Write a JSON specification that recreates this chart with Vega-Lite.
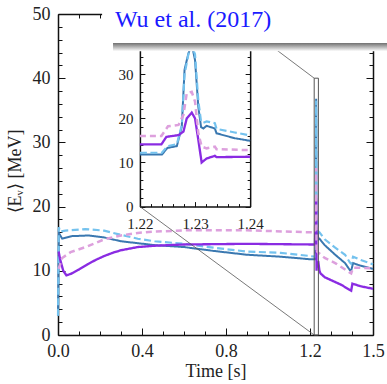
{
  "$schema": "https://vega.github.io/schema/vega-lite/v6.json",
  "width": 315,
  "height": 321,
  "autosize": {"type": "none"},
  "padding": {"left": 58, "top": 14, "right": 14, "bottom": 49},
  "background": "white",
  "config": {
    "view": {"stroke": null},
    "axis": {
      "zindex": 0,
      "grid": false,
      "labelFont": "Liberation Serif",
      "labelFontSize": 18,
      "labelColor": "#222",
      "titleFont": "Liberation Serif",
      "titleFontSize": 18,
      "titleFontWeight": "normal",
      "titleColor": "#222",
      "domainColor": "#111",
      "domainWidth": 1.5,
      "tickColor": "#111",
      "tickWidth": 1,
      "labelFlush": false,
      "labelOverlap": false
    }
  },
  "datasets": {
    "d": [
      {"t": 0, "E": 3.0, "s": "A"}, {"t": 0.004, "E": 15.9, "s": "A"}, {"t": 0.02, "E": 15.0, "s": "A"}, {"t": 0.065, "E": 15.4, "s": "A"}, {"t": 0.145, "E": 15.5, "s": "A"}, {"t": 0.22, "E": 15.2, "s": "A"}, {"t": 0.30, "E": 14.6, "s": "A"}, {"t": 0.38, "E": 14.3, "s": "A"}, {"t": 0.46, "E": 14.0, "s": "A"}, {"t": 0.60, "E": 13.7, "s": "A"}, {"t": 0.74, "E": 13.1, "s": "A"}, {"t": 0.90, "E": 12.5, "s": "A"}, {"t": 1.06, "E": 12.2, "s": "A"}, {"t": 1.20, "E": 11.8, "s": "A"},
      {"t": 1.22, "E": 11.8, "s": "A"}, {"t": 1.224, "E": 11.8, "s": "A"}, {"t": 1.225, "E": 13.3, "s": "A"}, {"t": 1.2267, "E": 13.7, "s": "A"}, {"t": 1.2276, "E": 18.1, "s": "A"}, {"t": 1.2281, "E": 31.0, "s": "A"}, {"t": 1.2288, "E": 34.7, "s": "A"}, {"t": 1.2294, "E": 36.8, "s": "A"}, {"t": 1.23, "E": 33.2, "s": "A"}, {"t": 1.2306, "E": 22.6, "s": "A"}, {"t": 1.2311, "E": 18.0, "s": "A"}, {"t": 1.2315, "E": 17.7, "s": "A"}, {"t": 1.2321, "E": 18.3, "s": "A"}, {"t": 1.2336, "E": 17.7, "s": "A"}, {"t": 1.2339, "E": 16.6, "s": "A"}, {"t": 1.2372, "E": 15.5, "s": "A"}, {"t": 1.24, "E": 14.9, "s": "A"},
      {"t": 1.245, "E": 15.0, "s": "A"}, {"t": 1.27, "E": 14.0, "s": "A"}, {"t": 1.32, "E": 12.5, "s": "A"}, {"t": 1.367, "E": 11.2, "s": "A"}, {"t": 1.39, "E": 10.1, "s": "A"}, {"t": 1.396, "E": 10.0, "s": "A"}, {"t": 1.405, "E": 11.2, "s": "A"}, {"t": 1.44, "E": 10.8, "s": "A"}, {"t": 1.5, "E": 10.3, "s": "A"},

      {"t": 0, "E": 3.0, "s": "B"}, {"t": 0.004, "E": 16.8, "s": "B"}, {"t": 0.01, "E": 16.1, "s": "B"}, {"t": 0.035, "E": 16.25, "s": "B"}, {"t": 0.13, "E": 16.5, "s": "B"}, {"t": 0.22, "E": 16.25, "s": "B"}, {"t": 0.30, "E": 15.6, "s": "B"}, {"t": 0.38, "E": 15.0, "s": "B"}, {"t": 0.46, "E": 14.6, "s": "B"}, {"t": 0.60, "E": 14.2, "s": "B"}, {"t": 0.74, "E": 13.6, "s": "B"}, {"t": 0.90, "E": 13.0, "s": "B"}, {"t": 1.06, "E": 12.8, "s": "B"}, {"t": 1.20, "E": 12.3, "s": "B"},
      {"t": 1.22, "E": 12.2, "s": "B"}, {"t": 1.224, "E": 12.2, "s": "B"}, {"t": 1.225, "E": 13.7, "s": "B"}, {"t": 1.2267, "E": 14.1, "s": "B"}, {"t": 1.2276, "E": 18.5, "s": "B"}, {"t": 1.2281, "E": 30.0, "s": "B"}, {"t": 1.2288, "E": 34.5, "s": "B"}, {"t": 1.2294, "E": 36.5, "s": "B"}, {"t": 1.23, "E": 34.5, "s": "B"}, {"t": 1.2306, "E": 24.0, "s": "B"}, {"t": 1.2311, "E": 19.2, "s": "B"}, {"t": 1.2315, "E": 19.0, "s": "B"}, {"t": 1.2321, "E": 19.3, "s": "B"}, {"t": 1.2336, "E": 18.9, "s": "B"}, {"t": 1.2339, "E": 17.6, "s": "B"}, {"t": 1.2372, "E": 16.8, "s": "B"}, {"t": 1.24, "E": 16.1, "s": "B"},
      {"t": 1.245, "E": 16.0, "s": "B"}, {"t": 1.27, "E": 14.9, "s": "B"}, {"t": 1.32, "E": 13.6, "s": "B"}, {"t": 1.367, "E": 12.5, "s": "B"}, {"t": 1.39, "E": 11.3, "s": "B"}, {"t": 1.396, "E": 11.1, "s": "B"}, {"t": 1.405, "E": 12.2, "s": "B"}, {"t": 1.44, "E": 11.7, "s": "B"}, {"t": 1.5, "E": 11.0, "s": "B"},

      {"t": 0.003, "E": 13.0, "s": "C"}, {"t": 0.01, "E": 11.8, "s": "C"}, {"t": 0.025, "E": 10.0, "s": "C"}, {"t": 0.04, "E": 9.3, "s": "C"}, {"t": 0.06, "E": 9.5, "s": "C"}, {"t": 0.10, "E": 10.2, "s": "C"}, {"t": 0.14, "E": 11.0, "s": "C"}, {"t": 0.18, "E": 11.7, "s": "C"}, {"t": 0.22, "E": 12.3, "s": "C"}, {"t": 0.26, "E": 12.8, "s": "C"}, {"t": 0.30, "E": 13.2, "s": "C"}, {"t": 0.38, "E": 13.7, "s": "C"}, {"t": 0.46, "E": 13.9, "s": "C"}, {"t": 0.60, "E": 14.1, "s": "C"}, {"t": 0.90, "E": 14.2, "s": "C"}, {"t": 1.20, "E": 14.1, "s": "C"},
      {"t": 1.22, "E": 14.1, "s": "C"}, {"t": 1.2239, "E": 14.1, "s": "C"}, {"t": 1.2248, "E": 15.8, "s": "C"}, {"t": 1.227, "E": 16.2, "s": "C"}, {"t": 1.2279, "E": 17.0, "s": "C"}, {"t": 1.2285, "E": 20.0, "s": "C"}, {"t": 1.2294, "E": 21.3, "s": "C"}, {"t": 1.23, "E": 20.0, "s": "C"}, {"t": 1.2306, "E": 15.1, "s": "C"}, {"t": 1.2312, "E": 10.0, "s": "C"}, {"t": 1.2321, "E": 10.9, "s": "C"}, {"t": 1.2336, "E": 11.5, "s": "C"}, {"t": 1.2339, "E": 11.2, "s": "C"}, {"t": 1.24, "E": 11.3, "s": "C"},
      {"t": 1.245, "E": 10.0, "s": "C"}, {"t": 1.25, "E": 9.6, "s": "C"}, {"t": 1.27, "E": 9.0, "s": "C"}, {"t": 1.31, "E": 8.4, "s": "C"}, {"t": 1.35, "E": 7.8, "s": "C"}, {"t": 1.39, "E": 7.0, "s": "C"}, {"t": 1.396, "E": 6.9, "s": "C"}, {"t": 1.402, "E": 8.0, "s": "C"}, {"t": 1.44, "E": 7.6, "s": "C"}, {"t": 1.5, "E": 7.2, "s": "C"},

      {"t": 0.003, "E": 10.3, "s": "D"}, {"t": 0.02, "E": 12.0, "s": "D"}, {"t": 0.06, "E": 12.9, "s": "D"}, {"t": 0.14, "E": 13.8, "s": "D"}, {"t": 0.22, "E": 14.9, "s": "D"}, {"t": 0.30, "E": 15.5, "s": "D"}, {"t": 0.38, "E": 15.9, "s": "D"}, {"t": 0.46, "E": 16.1, "s": "D"}, {"t": 0.60, "E": 16.3, "s": "D"}, {"t": 0.90, "E": 16.3, "s": "D"}, {"t": 1.20, "E": 16.0, "s": "D"},
      {"t": 1.22, "E": 16.0, "s": "D"}, {"t": 1.2239, "E": 16.0, "s": "D"}, {"t": 1.2251, "E": 18.2, "s": "D"}, {"t": 1.227, "E": 18.5, "s": "D"}, {"t": 1.2279, "E": 20.8, "s": "D"}, {"t": 1.2285, "E": 25.7, "s": "D"}, {"t": 1.2294, "E": 26.0, "s": "D"}, {"t": 1.23, "E": 23.8, "s": "D"}, {"t": 1.2306, "E": 16.6, "s": "D"}, {"t": 1.2312, "E": 13.6, "s": "D"}, {"t": 1.2321, "E": 13.2, "s": "D"}, {"t": 1.2336, "E": 13.6, "s": "D"}, {"t": 1.2339, "E": 13.0, "s": "D"}, {"t": 1.24, "E": 12.8, "s": "D"},
      {"t": 1.245, "E": 12.7, "s": "D"}, {"t": 1.27, "E": 12.0, "s": "D"}, {"t": 1.32, "E": 11.2, "s": "D"}, {"t": 1.367, "E": 10.2, "s": "D"}, {"t": 1.39, "E": 9.7, "s": "D"}, {"t": 1.396, "E": 9.6, "s": "D"}, {"t": 1.405, "E": 10.5, "s": "D"}, {"t": 1.5, "E": 10.4, "s": "D"}
    ]
  },
  "layer": [
    {
      "layer": [
        {
          "data": {"name": "d"},
          "mark": {"type": "line", "strokeCap": "butt"},
          "encoding": {
            "x": {"field": "t", "type": "quantitative", "scale": {"domain": [0, 1.5], "nice": false, "zero": false},
                  "axis": {"orient": "bottom", "values": [0, 0.4, 0.8, 1.2, 1.5], "format": ".1f", "tickSize": -7, "labelPadding": 14, "title": "Time [s]", "titleX": 157.5, "titleY": 41.5, "titleBaseline": "alphabetic"}},
            "y": {"field": "E", "type": "quantitative", "scale": {"domain": [0, 50], "nice": false, "zero": false},
                  "axis": {"orient": "left", "values": [0, 10, 20, 30, 40, 50], "tickSize": -7, "labelPadding": 15, "title": "⟨Eᵥ⟩ [MeV]", "titleX": -38, "titleY": 157, "titleAngle": -90, "titleBaseline": "alphabetic"}},
            "color": {"field": "s", "type": "nominal", "scale": {"domain": ["A", "B", "C", "D"], "range": ["#3a78b0", "#74c2ee", "#8a2be2", "#dda0dd"]}, "legend": null},
            "strokeDash": {"field": "s", "type": "nominal", "scale": {"domain": ["A", "B", "C", "D"], "range": [[1, 0], [7, 3.5], [1, 0], [6, 4]]}, "legend": null},
            "strokeWidth": {"field": "s", "type": "ordinal", "scale": {"domain": ["A", "B", "C", "D"], "range": [2, 2.5, 2, 2]}, "legend": null}
          }
        },
        {
          "data": {"values": [{}]},
          "mark": {"type": "rect", "filled": false, "color": "#555", "strokeWidth": 1},
          "encoding": {
            "x": {"datum": 1.22, "type": "quantitative", "scale": {"domain": [0, 1.5], "nice": false, "zero": false},
                  "axis": {"orient": "top", "values": [0, 0.4, 0.8, 1.2], "tickSize": -7, "labels": false, "title": null}},
            "x2": {"datum": 1.24},
            "y": {"datum": 0, "type": "quantitative", "scale": {"domain": [0, 50], "nice": false, "zero": false},
                  "axis": {"orient": "right", "values": [0, 10, 20, 30, 40, 50], "tickSize": -7, "labels": false, "title": null}},
            "y2": {"datum": 40}
          }
        },
        {
          "data": {"values": [{}]},
          "mark": {"type": "rule", "color": "#555", "strokeWidth": 0.8},
          "encoding": {
            "x": {"datum": 0.39, "type": "quantitative", "scale": {"domain": [0, 1.5], "nice": false, "zero": false},
                  "axis": {"orient": "bottom", "values": [0.1, 0.2, 0.3, 0.5, 0.6, 0.7, 0.9, 1.0, 1.1, 1.3, 1.4], "tickSize": -4, "labels": false, "domain": false, "title": null}},
            "x2": {"datum": 1.22},
            "y": {"datum": 20, "type": "quantitative", "scale": {"domain": [0, 50], "nice": false, "zero": false},
                  "axis": {"orient": "left", "values": [2, 4, 6, 8, 12, 14, 16, 18, 22, 24, 26, 28, 32, 34, 36, 38, 42, 44, 46, 48], "tickSize": -4, "labels": false, "domain": false, "title": null}},
            "y2": {"datum": 0}
          }
        },
        {
          "data": {"values": [{}]},
          "mark": {"type": "rule", "color": "#555", "strokeWidth": 0.8},
          "encoding": {
            "x": {"datum": 0.915, "type": "quantitative", "scale": {"domain": [0, 1.5], "nice": false, "zero": false},
                  "axis": {"orient": "top", "values": [0.1, 0.2, 0.3, 0.5, 0.6, 0.7, 0.9, 1.0, 1.1, 1.3, 1.4], "tickSize": -4, "labels": false, "domain": false, "title": null}},
            "x2": {"datum": 1.22},
            "y": {"datum": 47.5, "type": "quantitative", "scale": {"domain": [0, 50], "nice": false, "zero": false},
                  "axis": {"orient": "right", "values": [2, 4, 6, 8, 12, 14, 16, 18, 22, 24, 26, 28, 32, 34, 36, 38, 42, 44, 46, 48], "tickSize": -4, "labels": false, "domain": false, "title": null}},
            "y2": {"datum": 40}
          }
        }
      ],
      "resolve": {"axis": {"x": "independent", "y": "independent"}}
    },
    {
      "layer": [
        {
          "data": {"name": "d"},
          "transform": [{"filter": {"field": "t", "range": [1.22, 1.24]}}],
          "mark": {"type": "line", "strokeCap": "butt"},
          "encoding": {
            "x": {"field": "t", "type": "quantitative", "scale": {"domain": [1.22, 1.24], "range": [81.9, 192.15], "nice": false, "zero": false},
                  "axis": {"orient": "bottom", "offset": -128.4, "values": [1.22, 1.23, 1.24], "format": ".2f", "tickSize": -5, "labelFontSize": 15, "labelPadding": 15, "title": null}},
            "y": {"field": "E", "type": "quantitative", "scale": {"domain": [0, 40], "range": [192.6, 16.05], "nice": false, "zero": false},
                  "axis": {"orient": "left", "offset": -81.9, "values": [0, 10, 20, 30], "tickSize": -5, "labelFontSize": 15, "labelPadding": 12, "title": null}},
            "color": {"field": "s", "type": "nominal", "scale": {"domain": ["A", "B", "C", "D"], "range": ["#3a78b0", "#74c2ee", "#8a2be2", "#dda0dd"]}, "legend": null},
            "strokeDash": {"field": "s", "type": "nominal", "scale": {"domain": ["A", "B", "C", "D"], "range": [[1, 0], [7, 3.5], [1, 0], [6, 4]]}, "legend": null},
            "strokeWidth": {"field": "s", "type": "ordinal", "scale": {"domain": ["A", "B", "C", "D"], "range": [2, 2.5, 2, 2]}, "legend": null}
          }
        },
        {
          "data": {"values": [{}]},
          "mark": {"type": "point", "opacity": 0},
          "encoding": {
            "x": {"datum": 1.23, "type": "quantitative", "scale": {"domain": [1.22, 1.24], "range": [81.9, 192.15], "nice": false, "zero": false},
                  "axis": {"orient": "bottom", "offset": -128.4, "values": [1.222, 1.224, 1.226, 1.228, 1.232, 1.234, 1.236, 1.238], "tickSize": -3, "labels": false, "domain": false, "title": null}},
            "y": {"datum": 10, "type": "quantitative", "scale": {"domain": [0, 40], "range": [192.6, 16.05], "nice": false, "zero": false},
                  "axis": {"orient": "left", "offset": -81.9, "values": [2, 4, 6, 8, 12, 14, 16, 18, 22, 24, 26, 28, 32, 34, 36, 38], "tickSize": -3, "labels": false, "domain": false, "title": null}}
          }
        },
        {
          "data": {"values": [{}]},
          "mark": {"type": "point", "opacity": 0},
          "encoding": {
            "x": {"datum": 1.23, "type": "quantitative", "scale": {"domain": [1.22, 1.24], "range": [81.9, 192.15], "nice": false, "zero": false},
                  "axis": {"orient": "top", "offset": -16.05, "values": [1.22, 1.23, 1.24], "tickSize": -5, "labels": false, "title": null}},
            "y": {"datum": 10, "type": "quantitative", "scale": {"domain": [0, 40], "range": [192.6, 16.05], "nice": false, "zero": false},
                  "axis": {"orient": "right", "offset": -122.85, "values": [0, 10, 20, 30, 40], "tickSize": -5, "labels": false, "title": null}}
          }
        },
        {
          "data": {"values": [{}]},
          "mark": {"type": "point", "opacity": 0},
          "encoding": {
            "x": {"datum": 1.23, "type": "quantitative", "scale": {"domain": [1.22, 1.24], "range": [81.9, 192.15], "nice": false, "zero": false},
                  "axis": {"orient": "top", "offset": -16.05, "values": [1.222, 1.224, 1.226, 1.228, 1.232, 1.234, 1.236, 1.238], "tickSize": -3, "labels": false, "domain": false, "title": null}},
            "y": {"datum": 10, "type": "quantitative", "scale": {"domain": [0, 40], "range": [192.6, 16.05], "nice": false, "zero": false},
                  "axis": {"orient": "right", "offset": -122.85, "values": [2, 4, 6, 8, 12, 14, 16, 18, 22, 24, 26, 28, 32, 34, 36, 38], "tickSize": -3, "labels": false, "domain": false, "title": null}}
          }
        }
      ],
      "resolve": {"axis": {"x": "independent", "y": "independent"}}
    },
    {
      "layer": [
        {
          "data": {"values": [{}]},
          "mark": {"type": "rect", "fill": {"gradient": "linear", "x1": 0, "y1": 0, "x2": 0, "y2": 1, "stops": [{"offset": 0, "color": "#6e6e6e"}, {"offset": 1, "color": "#ffffff"}]}},
          "encoding": {
            "x": {"datum": 0.262, "type": "quantitative", "scale": {"domain": [0, 1.5], "nice": false, "zero": false}, "axis": null},
            "x2": {"datum": 1.7},
            "y": {"datum": 45.5, "type": "quantitative", "scale": {"domain": [0, 50], "nice": false, "zero": false}, "axis": null},
            "y2": {"datum": 44.2}
          }
        },
        {
          "data": {"values": [{}]},
          "mark": {"type": "rect", "fill": "white"},
          "encoding": {
            "x": {"datum": 0.21, "type": "quantitative", "scale": {"domain": [0, 1.5], "nice": false, "zero": false}, "axis": null},
            "x2": {"datum": 1.7},
            "y": {"datum": 45.5, "type": "quantitative", "scale": {"domain": [0, 50], "nice": false, "zero": false}, "axis": null},
            "y2": {"datum": 56}
          }
        },
        {
          "data": {"values": [{}]},
          "mark": {"type": "text", "text": "Wu et al. (2017)", "font": "Liberation Serif", "fontSize": 24, "color": "#1a1aff", "align": "left", "baseline": "alphabetic"},
          "encoding": {
            "x": {"datum": 0.271, "type": "quantitative", "scale": {"domain": [0, 1.5], "nice": false, "zero": false}, "axis": null},
            "y": {"datum": 47.9, "type": "quantitative", "scale": {"domain": [0, 50], "nice": false, "zero": false}, "axis": null}
          }
        }
      ]
    }
  ],
  "resolve": {"scale": {"x": "independent", "y": "independent"}}
}
